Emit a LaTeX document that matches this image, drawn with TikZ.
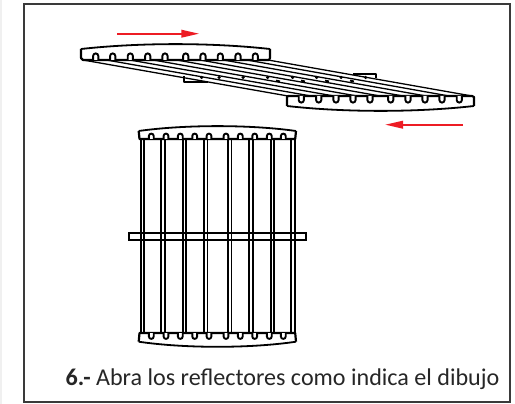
\documentclass[tikz,border=0pt]{standalone}
\usepackage{fontspec}
\setmainfont{Carlito}
\usetikzlibrary{arrows.meta}
\usetikzlibrary{calc}

\begin{document}
\begin{tikzpicture}[x=1pt, y=-1pt, >=Stealth, line width = 1.1pt,
						panel line/.style = {black, line width = 2.2pt, line join = round},
						arc line/.style = {black, line width = 1.8pt},
						hole line/.style = {black, line width = 1.9pt, fill = white},
						slat line/.style = {black, line width = 1.3pt},
						rod line/.style = {black, line width = 1.8pt},
						pin dot/.style = {circle, fill = black, inner sep = 0pt, minimum size = 3.5pt},
						move arrow/.style = {->, draw = arrowred, line width = 2pt, >={Stealth[length = 18pt, width = 7.5pt, inset = 0pt]}},
						frame line/.style = {draw = framegray, line width = 1.2pt}]
		\definecolor{arrowred}{HTML}{ED1C24}
		\definecolor{framegray}{HTML}{3A3A3A}
		\useasboundingbox (0,0) rectangle (515,404);

		\fill[black!6] (0,0) rectangle (2,404);
		\draw[frame line] (24,4) rectangle (510,402);

		% slats between the two open reflectors
		\foreach \ax/\bx in {83/288, 106.4/311, 129.8/334, 153.2/357, 176.6/380, 200/403, 223.4/426, 246.8/449, 268/472}
			\draw[slat line] (\ax,60) -- (\bx,96);

		% open reflector, upper
		\draw[panel line] (81,49) -- (81,58) -- (83,60) -- (269,60) -- (270,58) -- (270,49);
		\draw[arc line] (81,49) .. controls (140,42.5) and (211,42.5) .. (270,49);
		\foreach \hx in {95.7,112.7,130.3,147.7,165,185.7,203,220.3,238,255.3}
			\draw[hole line] (\hx-2.6,60) -- (\hx-2.6,56) arc[start angle = 180, end angle = 360, radius = 2.6] -- (\hx+2.6,60);

		% open reflector, lower
		\draw[panel line] (474,106) -- (474,97) -- (472,96) -- (288,96) -- (287,97) -- (287,106);
		\draw[arc line] (287,106) .. controls (345,112.5) and (416,112.5) .. (474,106);
		\foreach \hx in {301.3,318.7,336,353,370,390.7,408,425,442,459.3}
			\draw[hole line] (\hx-2.6,96) -- (\hx-2.6,100) arc[start angle = 180, end angle = 0, radius = 2.6] -- (\hx+2.6,96);

		% tabs of the cross bar
		\draw[panel line] (184,76) -- (184,82) -- (208,82);
		\draw[panel line] (353,74) -- (376,74) -- (376,78);
		\foreach \dx in {201.7,219,243,267.7,292.7,316.7,341,365.7}
			\node[pin dot] (d\dx) at (\dx,77.5) {};
		\foreach \dx in {278,303,327,352}
			\draw[rod line] (\dx-2,80.6) -- (\dx+2,81.4);

		% red arrows
		\draw[move arrow] (117.3,33.7) -- (199.3,33.7);
		\draw[move arrow] (463,124.7) -- (385,124.7);

		% cross bar of the closed reflector
		\draw[rod line] (128.7,232.7) rectangle (306,240);

		% closed reflector, slats
		\foreach \sx in {140.7,161.3,182.7,204,228,249.3,270.7,291.3} {
			\fill[white] (\sx,233.5) rectangle (\sx+3.4,239.2);
			\draw[rod line] (\sx,139) -- (\sx,333);
			\draw[rod line] (\sx+3.4,139) -- (\sx+3.4,333);
		}

		% closed reflector, upper end
		\draw[panel line] (138.7,131) -- (139.5,139) -- (295.2,139) -- (296,131);
		\draw[arc line] (138.7,131) .. controls (185,124.5) and (250,124.5) .. (296,131);
		\foreach \hx in {151.3,166,180.3,194.7,209,226,240.3,254.7,269.3,283.3}
			\draw[hole line] (\hx-2.4,139) -- (\hx-2.4,136) arc[start angle = 180, end angle = 360, radius = 2.4] -- (\hx+2.4,139);

		% closed reflector, lower end
		\draw[panel line] (138.7,341.7) -- (139.5,333) -- (295.2,333) -- (296,341.7);
		\draw[arc line] (138.7,341.7) .. controls (185,348.5) and (250,348.5) .. (296,341.7);
		\foreach \hx in {151.3,166,180.3,194.7,209,226,240.3,254.7,269.3,283.3}
			\draw[hole line] (\hx-2.4,333) -- (\hx-2.4,336.5) arc[start angle = 180, end angle = 0, radius = 2.4] -- (\hx+2.4,333);

		\node[anchor = base west, inner sep = 0pt, text = black!85, font = \fontsize{24.1}{28}\selectfont] (caption) at (65,385) {\textbf{6.-} Abra los reflectores como indica el dibujo};
	\end{tikzpicture}
\end{document}
